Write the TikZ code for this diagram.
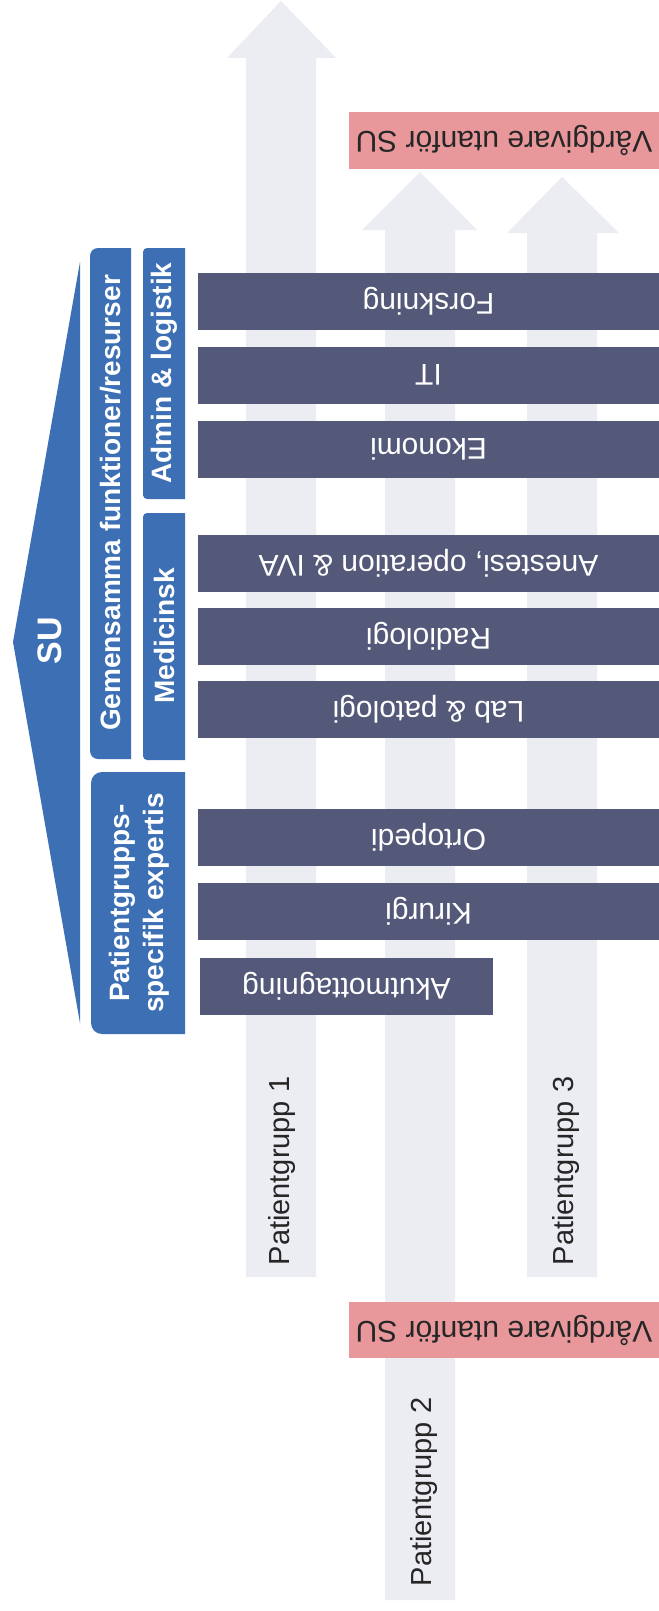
\documentclass[tikz,border=0pt]{standalone}
\usepackage{fontspec}
\setmainfont{Liberation Sans}
\definecolor{subl}{HTML}{3D6FB4}
\definecolor{bardark}{HTML}{555979}
\definecolor{flow}{HTML}{ECECF3}
\definecolor{redbox}{HTML}{E8979B}
\tikzset{
  flowarrow/.style={fill=flow, draw=none},
  bluefill/.style={fill=subl, draw=none},
  redfill/.style={fill=redbox, draw=none},
  barbox/.style={fill=bardark, draw=none, text=white, inner sep=0pt, rotate=180,
    minimum height=57bp, font=\fontsize{30bp}{36bp}\selectfont},
  coltext/.style={text=white, inner sep=0pt, rotate=90, align=center,
    font=\bfseries\fontsize{28bp}{34bp}\selectfont},
  sutext/.style={text=white, inner sep=0pt, rotate=90,
    font=\bfseries\fontsize{34bp}{40bp}\selectfont},
  pgtext/.style={text=black!85, inner sep=0pt, rotate=90,
    font=\fontsize{29bp}{35bp}\selectfont},
  redtext/.style={text=black!85, inner sep=0pt, rotate=180,
    font=\fontsize{30bp}{36bp}\selectfont},
}
\begin{document}
\begin{tikzpicture}[x=1bp, y=-1bp]
\useasboundingbox[fill=white] (0,0) rectangle (659,1611);

% patient flow arrows
\fill[flowarrow] (246,1277) -- (246,58) -- (227,58) -- (281,1) -- (336,58) -- (316,58) -- (316,1277) -- cycle;
\fill[flowarrow] (385,1600) -- (385,230) -- (362,230) -- (420,172) -- (477,230) -- (455,230) -- (455,1600) -- cycle;
\fill[flowarrow] (527,1277) -- (527,233) -- (507,233) -- (562,177) -- (619,233) -- (597,233) -- (597,1277) -- cycle;

% SU triangle
\fill[bluefill] (80,262) -- (13,642) -- (80,1023) -- cycle;
\node[sutext] (su) at (50,641) {SU};

% columns
\fill[bluefill] (131,248) [rounded corners=8bp] -- (90,248) -- (90,759) [sharp corners] -- (131,759) -- cycle;
\fill[bluefill] (185,248) [rounded corners=4bp] -- (143,248) -- (143,499) [sharp corners] -- (185,499) -- cycle;
\fill[bluefill] (185,513) [rounded corners=4bp] -- (143,513) -- (143,760) [sharp corners] -- (185,760) -- cycle;
\fill[bluefill] (185,772) [rounded corners=11bp] -- (91,772) -- (91,1034) [sharp corners] -- (185,1034) -- cycle;
\node[coltext] (gem) at (111,503) {Gemensamma funktioner/resurser};
\node[coltext] (adm) at (164,373) {Admin \& logistik};
\node[coltext] (med) at (164,636) {Medicinsk};
\node[coltext] (pgs) at (139,903) {Patientgrupps-\\specifik expertis};

% function bars
\node[barbox, minimum width=461bp] (forsk) at (428.5,301.5) {Forskning};
\node[barbox, minimum width=461bp] (it) at (428.5,375) {IT};
\node[barbox, minimum width=461bp] (ekon) at (428.5,449) {Ekonomi};
\node[barbox, minimum width=461bp] (anest) at (428.5,563) {Anestesi, operation \& IVA};
\node[barbox, minimum width=461bp] (radio) at (428.5,636.5) {Radiologi};
\node[barbox, minimum width=461bp] (lab) at (428.5,709.5) {Lab \& patologi};
\node[barbox, minimum width=461bp] (orto) at (428.5,837) {Ortopedi};
\node[barbox, minimum width=461bp] (kir) at (428.5,911.5) {Kirurgi};
\node[barbox, minimum width=293bp] (akut) at (346.5,986) {Akutmottagning};

% external care providers
\fill[redfill] (349,112) rectangle (659,169);
\node[redtext] (ext1) at (504,140.5) {Vårdgivare utanför SU};
\fill[redfill] (349,1302) rectangle (659,1358);
\node[redtext] (ext2) at (504,1330) {Vårdgivare utanför SU};

% patient group labels
\node[pgtext] (pg1) at (282,1171) {Patientgrupp 1};
\node[pgtext] (pg2) at (424,1492) {Patientgrupp 2};
\node[pgtext] (pg3) at (566,1171) {Patientgrupp 3};
\end{tikzpicture}
\end{document}
